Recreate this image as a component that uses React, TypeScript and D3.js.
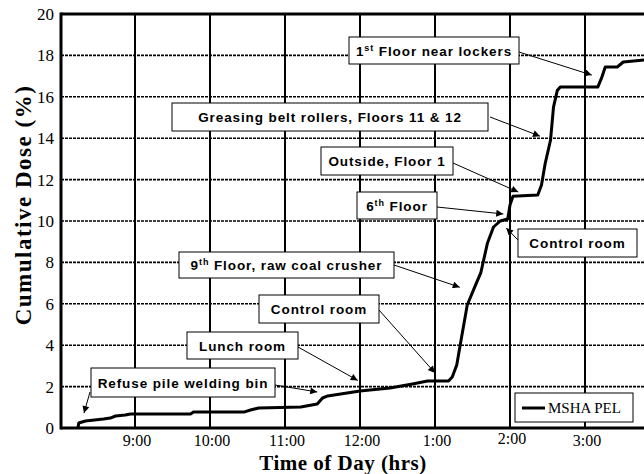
import * as d3 from 'd3';

// cumulative dose trace (time in decimal hours, 24h clock)
const times = [
  8.24, 8.25, 8.34, 8.58, 8.67, 8.74, 8.87, 8.94, 9.74, 9.78, 10.45, 10.54, 10.65,
  11.21, 11.43, 11.5, 11.57, 12.0, 12.4, 12.7, 12.9, 13.18, 13.23, 13.29, 13.34,
  13.43, 13.54, 13.61, 13.7, 13.78, 13.87, 13.97, 14.0, 14.04, 14.37, 14.42, 14.47,
  14.54, 14.58, 14.63, 14.67, 15.17, 15.22, 15.27, 15.43, 15.51, 15.8
];
const dose = [
  0.0, 0.24, 0.34, 0.43, 0.48, 0.58, 0.63, 0.68, 0.68, 0.77, 0.77, 0.87, 0.97,
  1.01, 1.16, 1.45, 1.55, 1.79, 1.93, 2.13, 2.27, 2.27, 2.46, 3.04, 4.1,
  5.94, 6.9, 7.49, 8.94, 9.71, 10.0, 10.1, 10.77, 11.2, 11.26, 11.74, 12.8,
  13.9, 15.5, 16.3, 16.47, 16.47, 16.9, 17.44, 17.44, 17.68, 17.78
];

const hourTicks = [9, 10, 11, 12, 13, 14, 15];
const hourLabels = ['9:00', '10:00', '11:00', '12:00', '1:00', '2:00', '3:00'];
const doseTicks = [0, 2, 4, 6, 8, 10, 12, 14, 16, 18, 20];

// callouts: text, box in pixels, arrow target in data units
const notes = [
  { pre: 'Refuse pile welding bin', sup: '', post: '', box: [91, 368, 184, 29], from: [275, 385], to: [11.43, 1.74] },
  { pre: '', sup: '', post: '', box: null, from: [90, 392], to: [8.32, 0.72] },
  { pre: 'Lunch room', sup: '', post: '', box: [187, 332, 111, 27], from: [298, 347], to: [11.97, 2.3] },
  { pre: 'Control room', sup: '', post: '', box: [259, 295, 120, 28], from: [379, 310], to: [13.0, 2.66] },
  { pre: '9', sup: 'th', post: ' Floor, raw coal crusher', box: [179, 252, 215, 26], from: [394, 265], to: [13.33, 6.8] },
  { pre: '6', sup: 'th', post: ' Floor', box: [357, 192, 80, 27], from: [437, 207], to: [13.91, 10.34] },
  { pre: 'Outside, Floor 1', sup: '', post: '', box: [321, 147, 132, 28], from: [453, 163], to: [14.11, 11.4] },
  { pre: 'Control room', sup: '', post: '', box: [518, 229, 119, 28], from: [518, 240], to: [13.95, 9.66] },
  { pre: 'Greasing belt rollers, Floors 11 & 12', sup: '', post: '', box: [172, 103, 316, 28], from: [490, 117], to: [14.4, 14.1] },
  { pre: '1', sup: 'st', post: ' Floor near lockers', box: [349, 37, 170, 27], from: [519, 52], to: [15.09, 17.05] },
];

const W = 644;
const H = 474;
const left = 61;
const top = 14;
const bottom = 428;

export default function App() {
  const x = d3.scaleLinear().domain([8, 16]).range([60, 660]);
  const y = d3.scaleLinear().domain([0, 20]).range([bottom, top]);

  const line = d3.line<number>()
    .x((_, i) => x(times[i]))
    .y((_, i) => y(dose[i]));

  const sans = "'Liberation Sans', Arial, sans-serif";
  const serif = "'Liberation Serif', 'Times New Roman', serif";

  return (
    <svg width={W} height={H} style={{ position: 'absolute', left: 0, top: 0, background: '#fff' }}>
      <defs>
        <marker id="ah" viewBox="0 0 10 10" refX="10" refY="5" markerWidth="9" markerHeight="7"
          markerUnits="userSpaceOnUse" orient="auto">
          <path d="M0,0 L10,5 L0,10 z" fill="#000" />
        </marker>
      </defs>

      {/* horizontal grid */}
      {doseTicks.slice(1, -1).map(t => (
        <line key={'h' + t} x1={left} x2={W} y1={y(t)} y2={y(t)}
          stroke="#000" strokeWidth={1.6} strokeDasharray="3,1" />
      ))}
      {/* vertical grid */}
      {hourTicks.map(t => (
        <line key={'v' + t} x1={x(t)} x2={x(t)} y1={top} y2={bottom}
          stroke="#000" strokeWidth={2} />
      ))}

      {/* frame */}
      <line x1={left} x2={W} y1={top} y2={top} stroke="#000" strokeWidth={3} />
      <line x1={left} x2={W} y1={bottom} y2={bottom} stroke="#000" strokeWidth={3} />
      <line x1={left} x2={left} y1={top - 1.5} y2={bottom + 1.5} stroke="#000" strokeWidth={3} />

      {/* y ticks */}
      {doseTicks.map(t => (
        <text key={'yl' + t} x={54} y={y(t) + 6} textAnchor="end"
          fontFamily={serif} fontSize={17} fill="#000">{t}</text>
      ))}
      {/* x ticks */}
      {hourTicks.map((t, i) => (
        <text key={'xl' + t} x={x(t) + 2} y={i === 5 ? 444 : 446} textAnchor="middle"
          fontFamily={serif} fontSize={16} fill="#000">{hourLabels[i]}</text>
      ))}

      {/* axis titles */}
      <text transform="translate(31,205) rotate(-90)" textAnchor="middle" letterSpacing={1.5}
        fontFamily={serif} fontSize={23} fontWeight="bold" fill="#000">Cumulative Dose (%)</text>
      <text x={343} y={470} textAnchor="middle" letterSpacing={0.5}
        fontFamily={serif} fontSize={21} fontWeight="bold" fill="#000">Time of Day (hrs)</text>

      {/* dose trace */}
      <path d={line(dose) || ''} fill="none" stroke="#000" strokeWidth={3} strokeLinejoin="round" />

      {/* callouts */}
      {notes.map((n, i) => (
        <g key={'n' + i}>
          <line x1={n.from[0]} y1={n.from[1]} x2={x(n.to[0])} y2={y(n.to[1])}
            stroke="#000" strokeWidth={1} markerEnd="url(#ah)" />
          {n.box && (
            <g>
              <rect x={n.box[0]} y={n.box[1]} width={n.box[2]} height={n.box[3]}
                fill="#fff" stroke="#000" strokeWidth={1} />
              <text x={n.box[0] + n.box[2] / 2} y={n.box[1] + n.box[3] / 2 + 5}
                textAnchor="middle" fontFamily={sans} fontSize={13.5} letterSpacing={0.9}
                fontWeight="bold" fill="#000">
                {n.pre}
                {n.sup && <tspan fontSize={9} dy={-5}>{n.sup}</tspan>}
                {n.post && <tspan dy={n.sup ? 5 : 0}>{n.post}</tspan>}
              </text>
            </g>
          )}
        </g>
      ))}

      {/* legend */}
      <rect x={515} y={393} width={118} height={29} fill="#fff" stroke="#000" strokeWidth={1} />
      <line x1={522} x2={545} y1={408} y2={408} stroke="#000" strokeWidth={3} />
      <text x={548} y={413} fontFamily={serif} fontSize={15} fill="#000">MSHA PEL</text>
    </svg>
  );
}
